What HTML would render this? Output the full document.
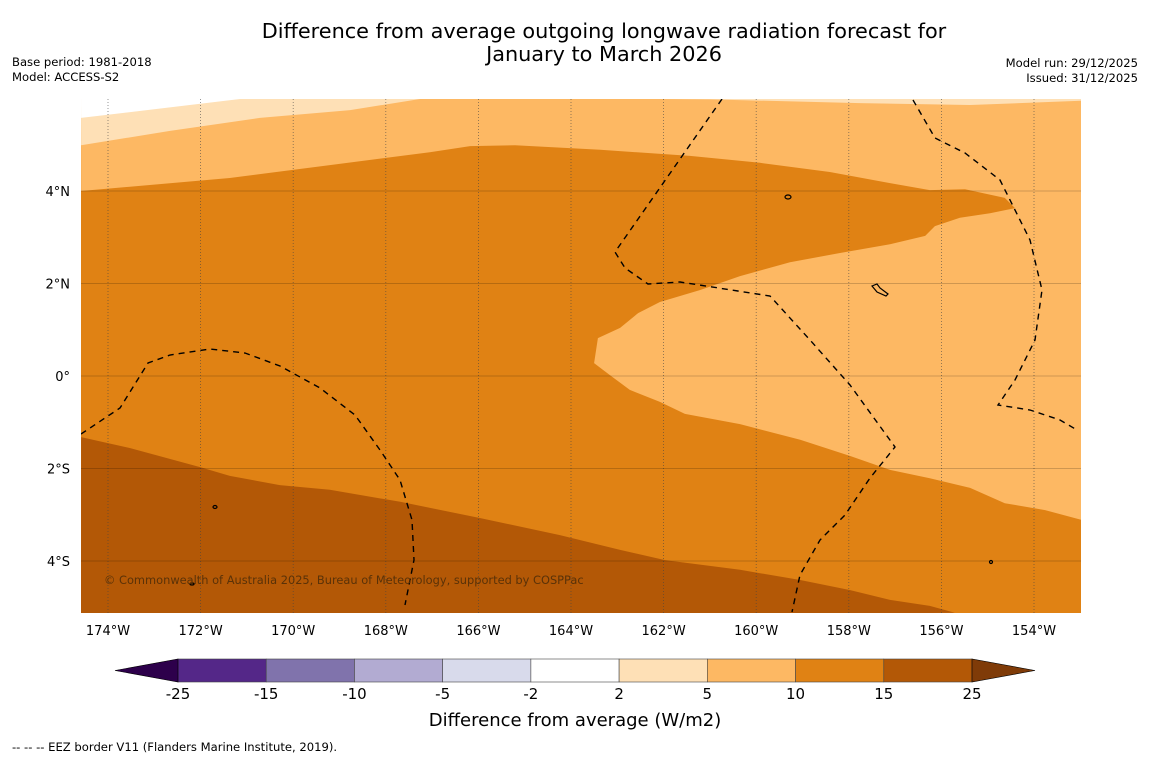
<!DOCTYPE html>
<html><head><meta charset="utf-8"><style>
html,body{margin:0;padding:0;background:#fff;}
body{width:1150px;height:758px;overflow:hidden;font-family:"Liberation Sans","DejaVu Sans",sans-serif;}
</style></head><body>
<svg id="chart" width="1150" height="758" xmlns="http://www.w3.org/2000/svg" font-family="'DejaVu Sans','Liberation Sans',sans-serif">
<text x="604" y="38" font-size="20.8" text-anchor="middle">Difference from average outgoing longwave radiation forecast for</text>
<text x="604" y="61" font-size="20.8" text-anchor="middle">January to March 2026</text>
<text x="12" y="66" font-size="11.6">Base period: 1981-2018</text>
<text x="12" y="81" font-size="11.6">Model: ACCESS-S2</text>
<text x="1138" y="67" font-size="11.6" text-anchor="end">Model run: 29/12/2025</text>
<text x="1138" y="82" font-size="11.6" text-anchor="end">Issued: 31/12/2025</text>
<defs><clipPath id="mapclip"><rect x="81" y="99" width="1000" height="514"/></clipPath></defs>
<g id="map" clip-path="url(#mapclip)"></g>
<g id="grid"></g>
<g id="eez" fill="none" stroke="#000" stroke-width="1.4" stroke-dasharray="6,5" clip-path="url(#mapclip)">
<path d="M81,434 L120,408 L148,363 L170,355 L210,349 L245,353 L280,366 L320,388 L355,415 L380,450 L400,480 L412,520 L414,560 L405,605"/>
<path d="M722,99 L615,252 L625,268 L648,284 L680,282 L770,296 L810,340 L850,385 L895,447 L870,478 L845,515 L820,540 L800,575 L792,612"/>
<path d="M913,100 L935,138 L965,153 L1000,180 L1030,240 L1042,290 L1035,340 L1015,380 L998,405 L1030,410 L1060,420 L1077,430"/>
</g>
<g fill="none" stroke="#000" stroke-width="1.2">
<ellipse cx="788" cy="197" rx="3" ry="2"/><path d="M872,286 l5,-2 l3,4 l8,6 l-2,2 l-9,-4 z"/><ellipse cx="215" cy="507" rx="2" ry="1.5"/><ellipse cx="192" cy="584" rx="2" ry="1"/><ellipse cx="991" cy="562" rx="1.5" ry="1.5"/>
</g>
<text x="104" y="584" font-size="11.4" fill="#5a3208">© Commonwealth of Australia 2025, Bureau of Meteorology, supported by COSPPac</text>
<g id="axes"></g>
<g id="cbar"></g>
<text x="575" y="726" font-size="18" text-anchor="middle">Difference from average (W/m2)</text>
<text x="12" y="751" font-size="11.6">--  --  -- EEZ border V11 (Flanders Marine Institute, 2019).</text>
</svg>
<script>
const lonTicks=[-174,-172,-170,-168,-166,-164,-162,-160,-158,-156,-154];
const latTicks=[4,2,0,-2,-4];
const cbLevels=[-25,-15,-10,-5,-2,2,5,10,15,25];
const cbColors=['#542788','#8073ac','#b2abd2','#d8daeb','#ffffff','#fee0b6','#fdb863','#e08214','#b35806'];
const cbLow='#2d004b', cbHigh='#7f3b08';
// contour boundaries (lon, lat)
const whiteTop=[[-174.58,5.58],[-171.15,5.99]];
const lightBand=[[-174.58,4.99],[-172.66,5.30],[-170.72,5.58],[-168.77,5.75],[-167.26,5.99]];
const rightLight=[[-162.08,5.99],[-161.0,5.98],[-157.76,5.90],[-155.38,5.86],[-152.98,5.95]];
const orangeTop=[[-174.58,4.0],[-171.37,4.28],[-169.21,4.56],[-167.05,4.84],[-166.18,4.97],[-165.21,4.99],[-163.37,4.89],[-161.43,4.76],[-159.92,4.61],[-158.41,4.41],[-157.11,4.17],[-156.25,4.02],[-155.49,4.04],[-154.63,3.85],[-154.41,3.63],[-154.95,3.52],[-155.60,3.42],[-156.14,3.24],[-156.35,3.03],[-157.11,2.85],[-158.19,2.66],[-159.27,2.46],[-160.35,2.16],[-161.21,1.86],[-162.08,1.60],[-162.55,1.36],[-162.94,1.04],[-163.42,0.82],[-163.50,0.28],[-163.16,0.02],[-162.73,-0.30],[-162.08,-0.56],[-161.54,-0.82],[-160.35,-1.04],[-159.05,-1.38],[-157.97,-1.73],[-157.11,-2.03],[-156.25,-2.21],[-155.38,-2.42],[-154.63,-2.75],[-153.76,-2.90],[-152.98,-3.11]];
const brownTop=[[-174.58,-1.32],[-173.52,-1.56],[-172.01,-1.97],[-171.37,-2.16],[-170.29,-2.36],[-169.21,-2.46],[-167.69,-2.72],[-165.97,-3.07],[-164.24,-3.44],[-162.94,-3.76],[-161.97,-3.98],[-160.35,-4.19],[-159.05,-4.41],[-157.97,-4.63],[-157.11,-4.84],[-156.25,-4.97],[-155.71,-5.12]];
const NS='http://www.w3.org/2000/svg';
const X0=108,PXD=46.3,Y0=376,PYD=46.25;
const xs=lon=>X0+(lon+174)*PXD;
const ys=lat=>Y0-lat*PYD;
const pts=a=>a.map(p=>xs(p[0]).toFixed(1)+','+ys(p[1]).toFixed(1));
function mk(tag,attrs,parent){const e=document.createElementNS(NS,tag);for(const k in attrs)e.setAttribute(k,attrs[k]);parent.appendChild(e);return e;}
const map=document.getElementById('map');
let r=mk('rect',{x:81,y:99,width:1000,height:514,fill:'#e08214'},map);


let p=mk('polygon',{points:[...pts(orangeTop),'1081,95','81,95'].join(' '),fill:'#fdb863'},map);


p=mk('polygon',{points:['81,95',...pts(lightBand),'420,95'].join(' '),fill:'#fee0b6'},map);


p=mk('polygon',{points:[...pts(rightLight),'1081,95','660,95'].join(' '),fill:'#fee0b6'},map);


p=mk('polygon',{points:['81,95',...pts(whiteTop),'240,95'].join(' '),fill:'#ffffff'},map);


p=mk('polygon',{points:[...pts(brownTop),'81,620'].join(' '),fill:'#b35806'},map);


const grid=document.getElementById('grid');
lonTicks.forEach(l=>{const g=mk('line',{x1:xs(l),x2:xs(l),y1:99,y2:613,stroke:'#444',"stroke-width":0.8,"stroke-dasharray":"1,2",opacity:0.7},grid);

});
latTicks.forEach(l=>{const g=mk('line',{x1:81,x2:1081,y1:ys(l),y2:ys(l),stroke:'#000',"stroke-width":1,opacity:0.18},grid);

});
const axes=document.getElementById('axes');
lonTicks.forEach(l=>{const t=mk('text',{x:xs(l),y:635,"font-size":13,"text-anchor":"middle"},axes);t.textContent=Math.abs(l)+'°W';

});
latTicks.forEach(l=>{const t=mk('text',{x:70,y:ys(l)+5,"font-size":13,"text-anchor":"end"},axes);t.textContent=l===0?'0°':Math.abs(l)+'°'+(l>0?'N':'S');

});
const cb=document.getElementById('cbar');
const CX0=178,CX1=972,CY=659,CH=23,seg=(CX1-CX0)/(cbLevels.length-1);
cbColors.forEach((c,i)=>{const s=mk('rect',{x:CX0+i*seg,y:CY,width:seg,height:CH,fill:c,stroke:'#444',"stroke-width":0.6},cb);

});
let tr=mk('polygon',{points:`${CX0},${CY} ${CX0},${CY+CH} 115,${CY+CH/2}`,fill:cbLow,stroke:'#000',"stroke-width":0.6},cb);


tr=mk('polygon',{points:`${CX1},${CY} ${CX1},${CY+CH} 1035,${CY+CH/2}`,fill:cbHigh,stroke:'#000',"stroke-width":0.6},cb);


cbLevels.forEach((v,i)=>{const t=mk('text',{x:CX0+i*seg,y:699,"font-size":15,"text-anchor":"middle"},cb);t.textContent=v;

});
</script>
</body></html>
